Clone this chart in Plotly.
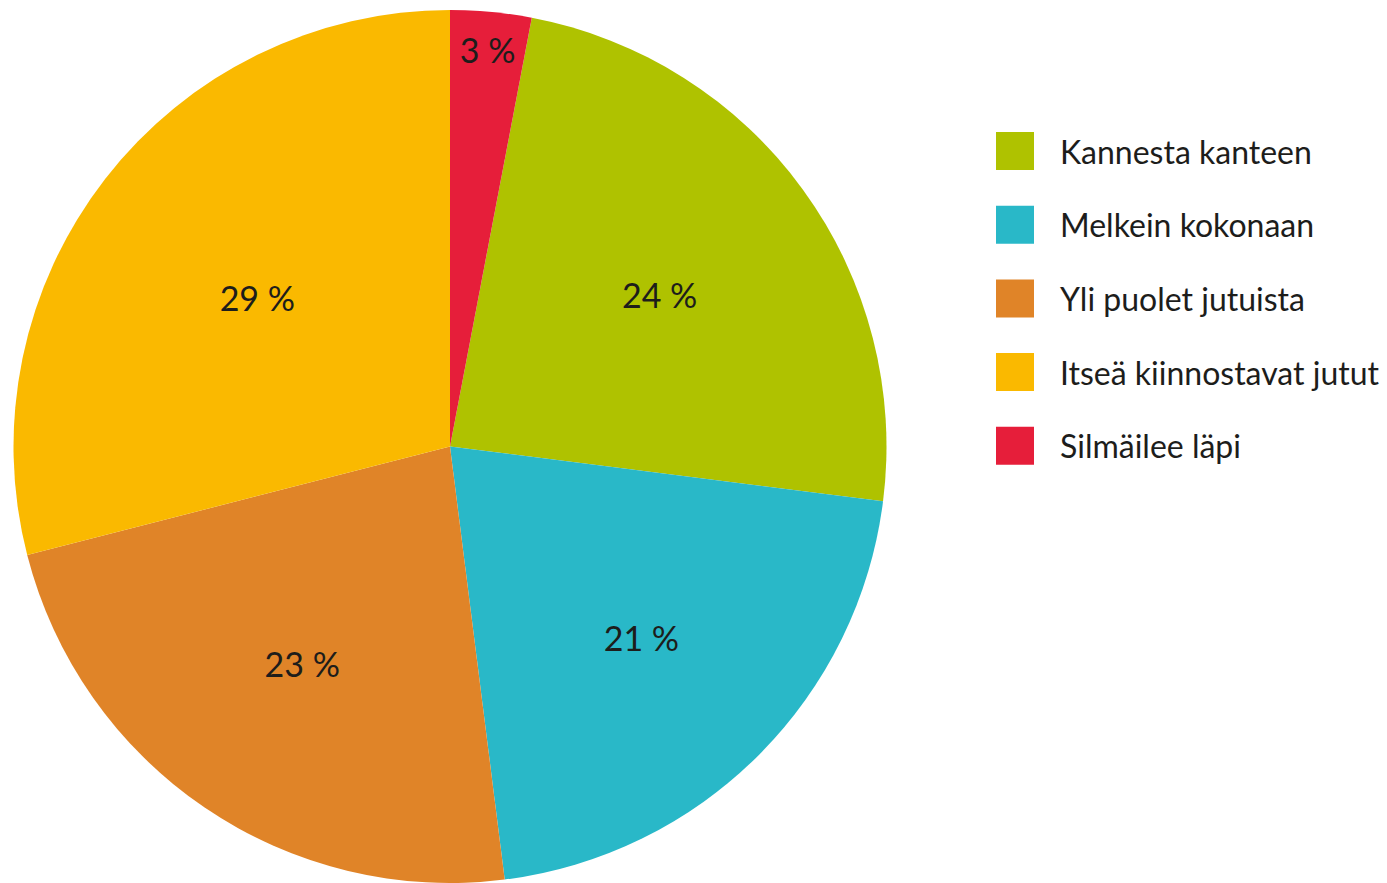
import plotly.graph_objects as go

labels = ["Kannesta kanteen", "Melkein kokonaan", "Yli puolet jutuista",
          "Itseä kiinnostavat jutut", "Silmäilee läpi"]
values = [24, 21, 23, 29, 3]
colors = ["#AFC200", "#29B8C8", "#E08428", "#FAB900", "#E61E3A"]

W, H = 1387, 883
cx, cy, r = 450, 447, 437

fig = go.Figure(go.Pie(
    labels=labels, values=values, sort=False, direction="clockwise",
    rotation=values[-1] / sum(values) * 360,
    marker=dict(colors=colors, line=dict(width=0)),
    texttemplate="%{value} %", textinfo="text", textposition="inside",
    insidetextorientation="horizontal",
    textfont=dict(family="Lato", size=34, color="#1d1d1b"),
    domain=dict(x=[(cx - r) / W, (cx + r) / W],
                y=[max(0, 1 - (cy + r) / H), min(1, 1 - (cy - r) / H)]),
    showlegend=False, hoverinfo="label+value",
))

# custom legend with large swatches
x0, y0, step, sw = 996, 151, 73.7, 38
for i, (lab, col) in enumerate(zip(labels, colors)):
    yc = y0 + i * step
    fig.add_shape(type="rect", xref="paper", yref="paper",
                  x0=x0 / W, x1=(x0 + sw) / W,
                  y0=1 - (yc + sw / 2) / H, y1=1 - (yc - sw / 2) / H,
                  fillcolor=col, line=dict(width=0))
    fig.add_annotation(xref="paper", yref="paper", x=1058 / W, y=1 - yc / H,
                       text=lab, showarrow=False, xanchor="left", yanchor="middle",
                       font=dict(family="Lato", size=32, color="#1d1d1b"))

fig.update_layout(width=W, height=H, margin=dict(l=0, r=0, t=0, b=0),
                  paper_bgcolor="white", plot_bgcolor="white")
fig.write_html("out.html", config={"displayModeBar": False},
               post_script="document.body.style.margin='0';document.body.style.overflow='hidden';")
